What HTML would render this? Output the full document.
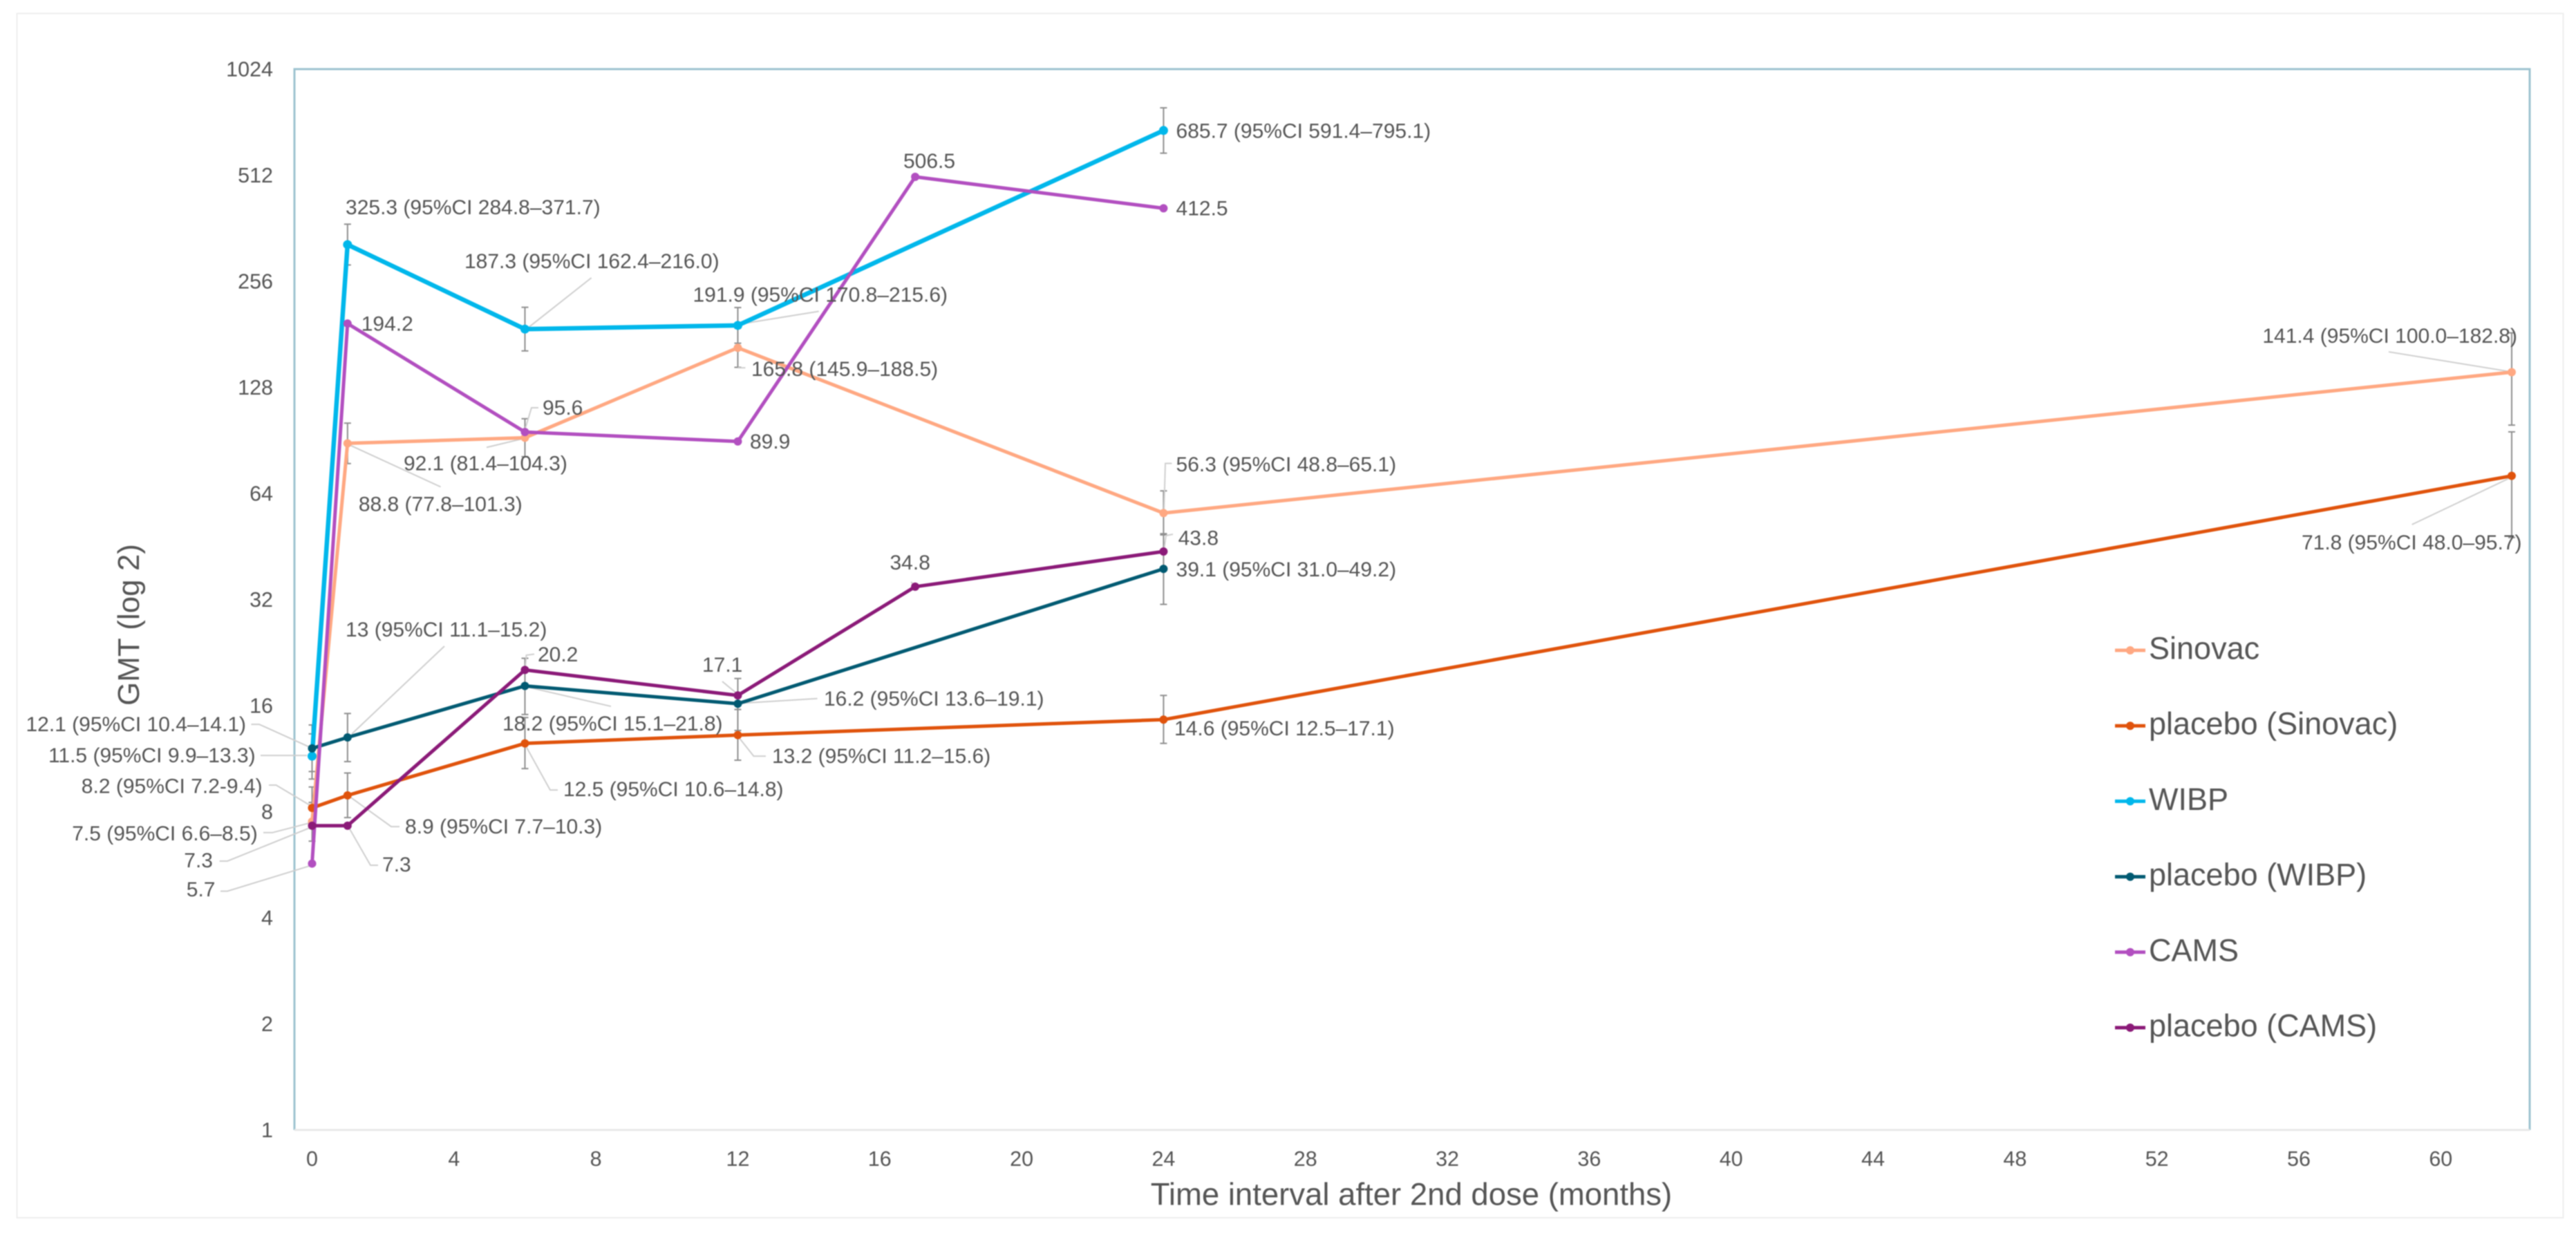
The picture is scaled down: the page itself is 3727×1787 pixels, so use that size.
<!DOCTYPE html>
<html lang="en">
<head>
<meta charset="utf-8">
<title>GMT over time after 2nd dose</title>
<style>
  html, body { margin: 0; padding: 0; background: #fff; }
  svg { display: block; filter: blur(0.7px); }
  text { font-family: "Liberation Sans", sans-serif; fill: #555555; }
</style>
</head>
<body>
<svg id="chart" xmlns="http://www.w3.org/2000/svg" width="3727" height="1787" viewBox="0 0 3727 1787">
  <rect x="0" y="0" width="3727" height="1787" fill="#ffffff"/>
  <rect x="24.5" y="19.5" width="3684" height="1742.5" fill="none" stroke="#eeeeee" stroke-width="2"/>
  <path d="M426 1635 V100 H3660 V1635" fill="none" stroke="#9cc3d0" stroke-width="3"/>
  <line x1="426" y1="1635" x2="3660" y2="1635" stroke="#e8e8e8" stroke-width="3"/>
  <text x="188" y="904" dy="0.3em" font-size="44" text-anchor="middle" transform="rotate(-90 188 904)">GMT (log 2)</text>
  <text x="2042" y="1730" dy="0.3em" font-size="45.5" text-anchor="middle">Time interval after 2nd dose (months)</text>
  <g id="ticks"></g>
  <g id="errors"></g>
  <g id="leaders"></g>
  <g id="series"></g>
  <g id="labels"></g>
  <g id="legend"></g>
</svg>
<script>
const seriesNames = ["Sinovac", "placebo (Sinovac)", "WIBP", "placebo (WIBP)", "CAMS", "placebo (CAMS)"];

const sinovacMonths = [0, 1, 6, 12, 24, 62];
const sinovacValues = [7.5, 88.8, 92.1, 165.8, 56.3, 141.4];
const sinovacLower = [6.6, 77.8, 81.4, 145.9, 48.8, 100.0];
const sinovacUpper = [8.5, 101.3, 104.3, 188.5, 65.1, 182.8];
const sinovacLabels = ["7.5 (95%CI 6.6–8.5)", "88.8 (77.8–101.3)", "92.1 (81.4–104.3)", "165.8 (145.9–188.5)", "56.3 (95%CI 48.8–65.1)", "141.4 (95%CI 100.0–182.8)"];

const placeboSinovacMonths = [0, 1, 6, 12, 24, 62];
const placeboSinovacValues = [8.2, 8.9, 12.5, 13.2, 14.6, 71.8];
const placeboSinovacLower = [7.2, 7.7, 10.6, 11.2, 12.5, 48.0];
const placeboSinovacUpper = [9.4, 10.3, 14.8, 15.6, 17.1, 95.7];
const placeboSinovacLabels = ["8.2 (95%CI 7.2-9.4)", "8.9 (95%CI 7.7–10.3)", "12.5 (95%CI 10.6–14.8)", "13.2 (95%CI 11.2–15.6)", "14.6 (95%CI 12.5–17.1)", "71.8 (95%CI 48.0–95.7)"];

const wibpMonths = [0, 1, 6, 12, 24];
const wibpValues = [11.5, 325.3, 187.3, 191.9, 685.7];
const wibpLower = [9.9, 284.8, 162.4, 170.8, 591.4];
const wibpUpper = [13.3, 371.7, 216.0, 215.6, 795.1];
const wibpLabels = ["11.5 (95%CI 9.9–13.3)", "325.3 (95%CI 284.8–371.7)", "187.3 (95%CI 162.4–216.0)", "191.9 (95%CI 170.8–215.6)", "685.7 (95%CI 591.4–795.1)"];

const placeboWibpMonths = [0, 1, 6, 12, 24];
const placeboWibpValues = [12.1, 13, 18.2, 16.2, 39.1];
const placeboWibpLower = [10.4, 11.1, 15.1, 13.6, 31.0];
const placeboWibpUpper = [14.1, 15.2, 21.8, 19.1, 49.2];
const placeboWibpLabels = ["12.1 (95%CI 10.4–14.1)", "13 (95%CI 11.1–15.2)", "18.2 (95%CI 15.1–21.8)", "16.2 (95%CI 13.6–19.1)", "39.1 (95%CI 31.0–49.2)"];

const camsMonths = [0, 1, 6, 12, 17, 24];
const camsValues = [5.7, 194.2, 95.6, 89.9, 506.5, 412.5];
const camsLabels = ["5.7", "194.2", "95.6", "89.9", "506.5", "412.5"];

const placeboCamsMonths = [0, 1, 6, 12, 17, 24];
const placeboCamsValues = [7.3, 7.3, 20.2, 17.1, 34.8, 43.8];
const placeboCamsLabels = ["7.3", "7.3", "20.2", "17.1", "34.8", "43.8"];

const yTickLabels = [1, 2, 4, 8, 16, 32, 64, 128, 256, 512, 1024];
const xTickLabels = [0, 4, 8, 12, 16, 20, 24, 28, 32, 36, 40, 44, 48, 52, 56, 60];

const NS = "http://www.w3.org/2000/svg";

function xScale(month) { return 451.5 + 51.33 * month; }
function yScale(value) { return 1635 - 153.5 * Math.log2(value); }

function make(tag, attrs, parent, content) {
  const node = document.createElementNS(NS, tag);
  for (const key in attrs) { node.setAttribute(key, attrs[key]); }
  if (content !== undefined) { node.textContent = content; }
  parent.appendChild(node);
  return node;
}

const seriesList = [
  { key: "sinovac", color: "#ffa882", width: 5, r: 6, months: sinovacMonths, values: sinovacValues, lower: sinovacLower, upper: sinovacUpper, labels: sinovacLabels },
  { key: "placebo-sinovac", color: "#e0530c", width: 5, r: 6, months: placeboSinovacMonths, values: placeboSinovacValues, lower: placeboSinovacLower, upper: placeboSinovacUpper, labels: placeboSinovacLabels },
  { key: "wibp", color: "#00b7eb", width: 6.5, r: 6.5, months: wibpMonths, values: wibpValues, lower: wibpLower, upper: wibpUpper, labels: wibpLabels },
  { key: "placebo-wibp", color: "#015a72", width: 5, r: 6, months: placeboWibpMonths, values: placeboWibpValues, lower: placeboWibpLower, upper: placeboWibpUpper, labels: placeboWibpLabels },
  { key: "cams", color: "#b24fc0", width: 5, r: 6, months: camsMonths, values: camsValues, labels: camsLabels },
  { key: "placebo-cams", color: "#8b1a78", width: 5, r: 6, months: placeboCamsMonths, values: placeboCamsValues, labels: placeboCamsLabels }
];

/* Label placement relative to each point: [dx, dy, anchor, leader polyline offsets] */
const labelPlacement = [
  [
    [-78.8, 18.2, "end", [[-70.5, 16], [-57.5, 16], [-3.5, 2]]],
    [16, 89, "start", [[134.7, 63], [2, 2]]],
    [-175.5, 38, "start", [[-55.5, 14], [-1.5, 1]]],
    [19.5, 32, "start", [[11, 29], [0, 29]]],
    [18.1, -69.6, "start", [[12, -71.9], [2.6, -71.9], [0.6, -2.4]]],
    [-360.6, -51.4, "start", [[-178, -29.4], [-3.5, -0.9]]]
  ],
  [
    [-71.9, -30.5, "end", [[-62.5, -33], [-52, -33], [0, -2]]],
    [83.2, 46.2, "start", [[75.2, 45.2], [63.2, 45.2], [2.2, 1.2]]],
    [55.5, 67.4, "start", [[47.5, 67.4], [36.5, 67.4], [0.5, 2.4]]],
    [49.5, 31.5, "start", [[40.5, 30.5], [23, 30.5], [0, 1.5]]],
    [15.6, 13.8, "start", null],
    [-304, 97.5, "start", [[-144.3, 70.5], [-3.5, 3.5]]]
  ],
  [
    [-81.9, 0, "end", [[-74.5, -1], [-7.5, -1]]],
    [-2.8, -52.9, "start", null],
    [-87.5, -97.2, "start", [[96.1, -74.2], [5.5, -2.6]]],
    [-65, -43.2, "start", [[117.2, -20.3], [3.5, -1.9]]],
    [18.1, 1.7, "start", null]
  ],
  [
    [-95.5, -33.8, "end", [[-88, -34.8], [-76.5, -34.8], [-3.5, -1.8]]],
    [-2.8, -155, "start", [[140.2, -132], [6.2, -5]]],
    [-32.5, 55.6, "start", [[124.5, 29.6], [5.5, 2.1]]],
    [124.5, -6.2, "start", [[115.1, -7.5], [3.5, -0.6]]],
    [18.1, 1.9, "start", null]
  ],
  [
    [-140, 38.5, "end", [[-132.5, 39.9], [-122.5, 39.9], [-3.5, 3.4]]],
    [19.9, 1.4, "start", null],
    [25.5, -34, "start", [[19.5, -35.1], [9.5, -35.1], [0.5, -5]]],
    [17.5, 1.2, "start", null],
    [-17.1, -21.8, "start", null],
    [18.1, 1.1, "start", null]
  ],
  [
    [-143.5, 51.2, "end", [[-133.9, 51.2], [-122.5, 51.2], [-3.5, 3.2]]],
    [50.2, 57.2, "start", [[44.2, 57.2], [33.2, 57.2], [2.2, 3.2]]],
    [18.5, -21.4, "start", [[13.5, -22.9], [2, -21.4], [0.5, -2.4]]],
    [-51.5, -43.3, "start", [[-22.5, -20.3], [-2.5, -3.7]]],
    [-36.6, -33.9, "start", [[-6, -6.9], [-2, -2.9]]],
    [21.2, -18.4, "start", [[13.6, -25], [3.6, -23], [0.6, -2]]]
  ]
];

const ticksGroup = document.getElementById("ticks");
const errorsGroup = document.getElementById("errors");
const leadersGroup = document.getElementById("leaders");
const seriesGroup = document.getElementById("series");
const labelsGroup = document.getElementById("labels");
const legendGroup = document.getElementById("legend");

yTickLabels.forEach(function (tick) {
  const label = make("text", { x: 395, y: yScale(tick), dy: "0.34em", "font-size": 30.5, "text-anchor": "end" }, ticksGroup, String(tick));
  
  
});

xTickLabels.forEach(function (tick) {
  const label = make("text", { x: xScale(tick), y: 1678, dy: "0.3em", "font-size": 30.5, "text-anchor": "middle" }, ticksGroup, String(tick));
  
  
});

seriesList.forEach(function (s, si) {
  if (s.lower) {
    s.months.forEach(function (m, i) {
      const px = xScale(m);
      const top = yScale(s.upper[i]);
      const bottom = yScale(s.lower[i]);
      const bar = make("path", {
        d: "M" + (px - 5) + " " + top + " H" + (px + 5) + " M" + px + " " + top + " V" + bottom + " M" + (px - 5) + " " + bottom + " H" + (px + 5),
        fill: "none", stroke: "#8f8f8f", "stroke-width": 2
      }, errorsGroup);
      
      
    });
  }

  const points = s.months.map(function (m, i) { return xScale(m) + "," + yScale(s.values[i]); }).join(" ");
  const line = make("polyline", { points: points, fill: "none", stroke: s.color, "stroke-width": s.width, "stroke-linejoin": "round", "stroke-linecap": "round" }, seriesGroup);
  
  

  s.months.forEach(function (m, i) {
    const dot = make("circle", { cx: xScale(m), cy: yScale(s.values[i]), r: s.r, fill: s.color }, seriesGroup);
    
    

    const place = labelPlacement[si][i];
    const ax = xScale(m);
    const ay = yScale(s.values[i]);
    const text = make("text", { x: ax + place[0], y: ay + place[1], dy: "0.3em", "font-size": 30, "text-anchor": place[2] }, labelsGroup, s.labels[i]);
    
    

    if (place[3]) {
      const leaderPoints = place[3].map(function (p) { return (ax + p[0]) + "," + (ay + p[1]); }).join(" ");
      const leader = make("polyline", { points: leaderPoints, fill: "none", stroke: "#cfcfcf", "stroke-width": 2 }, leadersGroup);
      
      
    }
  });

  const rowY = 941 + 109.2 * si;
  const swatchLine = make("line", { x1: 3060, y1: rowY, x2: 3104, y2: rowY, stroke: s.color, "stroke-width": 5 }, legendGroup);
  
  
  const swatchDot = make("circle", { cx: 3082, cy: rowY, r: 6, fill: s.color }, legendGroup);
  
  
  const legendText = make("text", { x: 3109, y: rowY - 1, dy: "0.3em", "font-size": 45 }, legendGroup, seriesNames[si]);
  
  
});
</script>
</body>
</html>
